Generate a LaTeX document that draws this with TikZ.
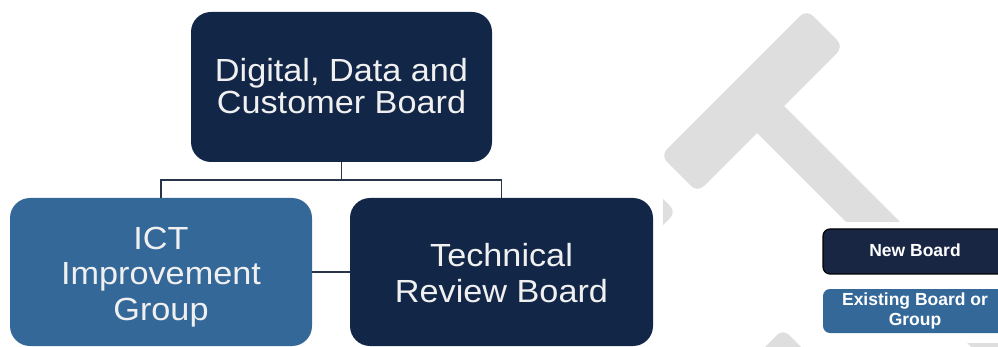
\documentclass[tikz,border=0pt]{standalone}
\usepackage{fontspec}
\setmainfont{Liberation Sans}
\newfontfamily\boxfont[FakeStretch=1.07]{Liberation Sans}
\definecolor{navy}{RGB}{18,38,72}
\definecolor{midblue}{RGB}{52,104,153}
\definecolor{legnavy}{RGB}{24,38,68}
\definecolor{wmgrey}{RGB}{222,222,222}
\definecolor{connc}{RGB}{40,52,72}
\definecolor{txt}{RGB}{240,240,240}
\begin{document}
\begin{tikzpicture}[x=1pt,y=-1pt,
  wm/.style={fill=wmgrey},
  darkbox/.style={rectangle, rounded corners=20pt, fill=navy, inner sep=0pt},
  midbox/.style={rectangle, rounded corners=20pt, fill=midblue, inner sep=0pt},
  newbox/.style={rectangle, rounded corners=7pt, fill=legnavy, draw=black, line width=1.2pt, inner sep=0pt},
  oldbox/.style={rectangle, rounded corners=7pt, fill=midblue, inner sep=0pt},
  boxtext/.style={text=txt, align=center, inner sep=0pt, font=\boxfont\fontsize{32}{35.5}\selectfont},
  legtext/.style={text=white, align=center, inner sep=0pt, font=\bfseries\fontsize{17.5}{20}\selectfont},
  conn/.style={draw=connc, line width=1.8pt}]
\useasboundingbox (0,0) rectangle (998,347);
% watermark
\begin{scope}
  \clip (663,0) rectangle (998,347);
  \fill[wm, rounded corners=9pt] (660.5,155.5) -- (806.5,9.5) -- (843.5,46.5) -- (697.5,192.5) -- cycle;
  \fill[wm] (752,128) -- (779,101) -- (1049,371) -- (1022,398) -- cycle;
  \fill[wm, rounded corners=8pt] (676,212) -- (646,182) -- (616,212) -- (646,242) -- cycle;
  \fill[wm, rounded corners=8pt] (783,329) -- (823,369) -- (783,409) -- (743,369) -- cycle;
\end{scope}
\fill[white] (810,222) rectangle (998,343);
% boxes
\node[darkbox, minimum width=301pt, minimum height=150pt] (top) at (341.5,87) {};
\node[boxtext, anchor=base, font=\boxfont\fontsize{32}{32.5}\selectfont] (toptext) at (341.5,114) {Digital, Data and\\Customer Board};
\node[midbox, minimum width=302pt, minimum height=148pt] (ict) at (161,272) {};
\node[boxtext, anchor=base] (icttext) at (161,320) {ICT\\Improvement\\Group};
\node[darkbox, minimum width=303pt, minimum height=148pt] (trb) at (501.5,272) {};
\node[boxtext, anchor=base] (trbtext) at (501.5,302) {Technical\\Review Board};
% connectors
\draw[conn] (top.south) -- ++(0,18) coordinate (j) -| (ict.north);
\draw[conn] (j) -| (trb.north);
\draw[conn] (ict.east) -- (trb.west);
% legend
\node[newbox, minimum width=184pt, minimum height=45pt] (newb) at (915,251.5) {};
\node[legtext, anchor=base] (newt) at (915,257) {New Board};
\node[oldbox, minimum width=184pt, minimum height=44pt] (oldb) at (915,311) {};
\node[legtext, anchor=base] (oldt) at (915,325) {Existing Board or\\Group};
\end{tikzpicture}
\end{document}
